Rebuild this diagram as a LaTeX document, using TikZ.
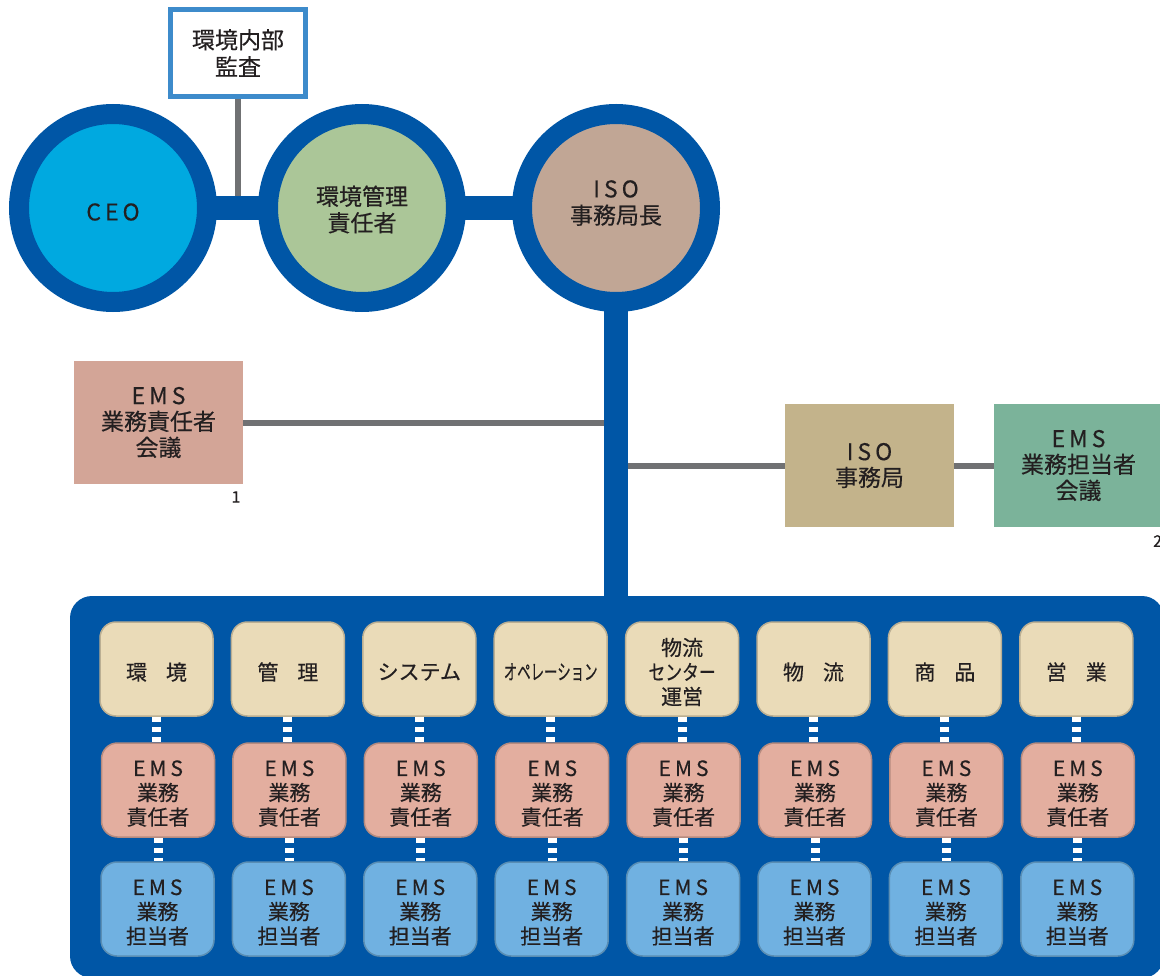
\documentclass[tikz,border=0pt]{standalone}
\usepackage{fontspec}
\usepackage{graphicx}
\setmainfont{Noto Sans CJK JP}[FakeBold=0.4]
\definecolor{navy}{HTML}{0056A6}
\definecolor{cyanfill}{HTML}{00A9E0}
\definecolor{sage}{HTML}{ABC698}
\definecolor{taupe}{HTML}{C1A695}
\definecolor{auditblue}{HTML}{3D8BCB}
\definecolor{grayl}{HTML}{707173}
\definecolor{rose}{HTML}{D3A597}
\definecolor{khaki}{HTML}{C3B38B}
\definecolor{jade}{HTML}{7BB39A}
\definecolor{cream}{HTML}{EADBB8}
\definecolor{salmon}{HTML}{E3AE9F}
\definecolor{skyb}{HTML}{70B1E1}
\definecolor{ink}{HTML}{231F20}
\newcommand\spc[3]{#1\kern4pt#2\kern4pt#3}
\pgfdeclarelayer{back}
\pgfsetlayers{back,main}
\tikzset{
  ringnode/.style={circle, draw=navy, line width=20pt, minimum size=188pt, inner sep=0pt},
  ringtext/.style={align=center, text=ink, inner sep=0pt, font=\fontsize{23}{26.5}\selectfont},
  navybar/.style={draw=navy, line width=24pt},
  gline/.style={draw=grayl, line width=6pt},
  flatbox/.style={rectangle, minimum width=169pt, minimum height=123pt, inner sep=0pt,
    align=center, text=ink, font=\fontsize{23}{26}\selectfont},
  colbox/.style={rectangle, rounded corners=16pt, minimum width=113pt, minimum height=94pt,
    inner sep=0pt, line width=1.5pt},
  coltext/.style={align=center, text=ink, inner sep=0pt, font=\fontsize{21}{24.5}\selectfont},
  topbox/.style={colbox, fill=cream, draw=cream!80!black},
  midbox/.style={colbox, fill=salmon, draw=salmon!80!black},
  botbox/.style={colbox, fill=skyb, draw=skyb!80!black},
  wdash/.style={draw=white, line width=9pt, dash pattern=on 5pt off 5pt},
  numlabel/.style={text=ink, font=\fontsize{16}{16}\selectfont, inner sep=0pt}
}
\begin{document}
\begin{tikzpicture}[x=1pt,y=-1pt]
\useasboundingbox (0,0) rectangle (1160,976);
% top level
\node[ringnode, fill=cyanfill] (ceo) at (113,208) {};
\node[ringtext] (ceotxt) at ([yshift=-4pt]ceo.center) {\spc CEO};
\node[ringnode, fill=sage] (mgr) at (362,208) {};
\node[ringtext] (mgrtxt) at ([yshift=-1.5pt]mgr.center) {環境管理\\責任者};
\node[ringnode, fill=taupe] (isoc) at (616,208) {};
\node[ringtext] (isotxt) at ([yshift=5pt]isoc.center) {\spc ISO\\事務局長};
\node[rectangle, draw=auditblue, fill=white, line width=5pt, minimum width=135pt, minimum height=87pt,
  inner sep=0pt, align=center, text=ink, font=\fontsize{23}{27}\selectfont] (audit) at (238,53) {環境内部\\監査};
% side boxes
\node[flatbox, fill=rose] (emsmeet) at (158.5,422.5) {\spc EMS\\業務責任者\\会議};
\node[numlabel] (n1) at (236,497) {1};
\node[flatbox, fill=khaki] (isojim) at (869.5,465.5) {\spc ISO\\事務局};
\node[flatbox, fill=jade] (tanmeet) at (1078.5,465.5) {\spc EMS\\業務担当者\\会議};
\node[numlabel, anchor=west] (n2) at (1153,541) {2};
% columns
\foreach \i/\lab in {1/{環\hspace{0.9em}境}, 2/{管\hspace{0.9em}理}, 3/{システム},
    4/{\scalebox{0.64}[1]{オペレーション}}, 5/{物流\\\scalebox{0.8}[1]{センター}\\運営},
    6/{物\hspace{0.9em}流}, 7/{商\hspace{0.9em}品}, 8/{営\hspace{0.9em}業}} {
  \pgfmathsetmacro\cx{156.5+131.4*(\i-1)}
  \node[topbox] (t\i) at (\cx,669) {};
  \node[coltext] (tt\i) at ([yshift=-3pt]t\i.center) {\lab};
  \node[midbox] (m\i) at (\cx+1.5,790) {};
  \node[coltext] (mt\i) at ([yshift=-3.5pt]m\i.center) {\spc EMS\\業務\\責任者};
  \node[botbox] (b\i) at (\cx+1,909) {};
  \node[coltext] (bt\i) at ([yshift=-3.5pt]b\i.center) {\spc EMS\\業務\\担当者};
}
\begin{pgfonlayer}{back}
  \node[fill=navy, rounded corners=22pt, minimum width=1094pt, minimum height=382pt, inner sep=0pt]
    (bigbox) at (617,787) {};
  \draw[gline] (audit.south) -- (audit.south |- ceo.center);
  \draw[gline] (emsmeet.east) -- (emsmeet.east -| isoc.center);
  \draw[gline] (isojim.west) -- (isojim.west -| isoc.center);
  \draw[gline] (isojim.east) -- (tanmeet.west);
  \draw[navybar] (ceo.center) -- (mgr.center) -- (isoc.center);
  \draw[navybar] (isoc.center) -- (isoc.center |- bigbox.north);
  \foreach \i in {1,...,8} {
    \draw[wdash] (t\i.south) -- (t\i.south |- m\i.north);
    \draw[wdash] (m\i.south) -- (m\i.south |- b\i.north);
  }
\end{pgfonlayer}
\end{tikzpicture}
\end{document}
